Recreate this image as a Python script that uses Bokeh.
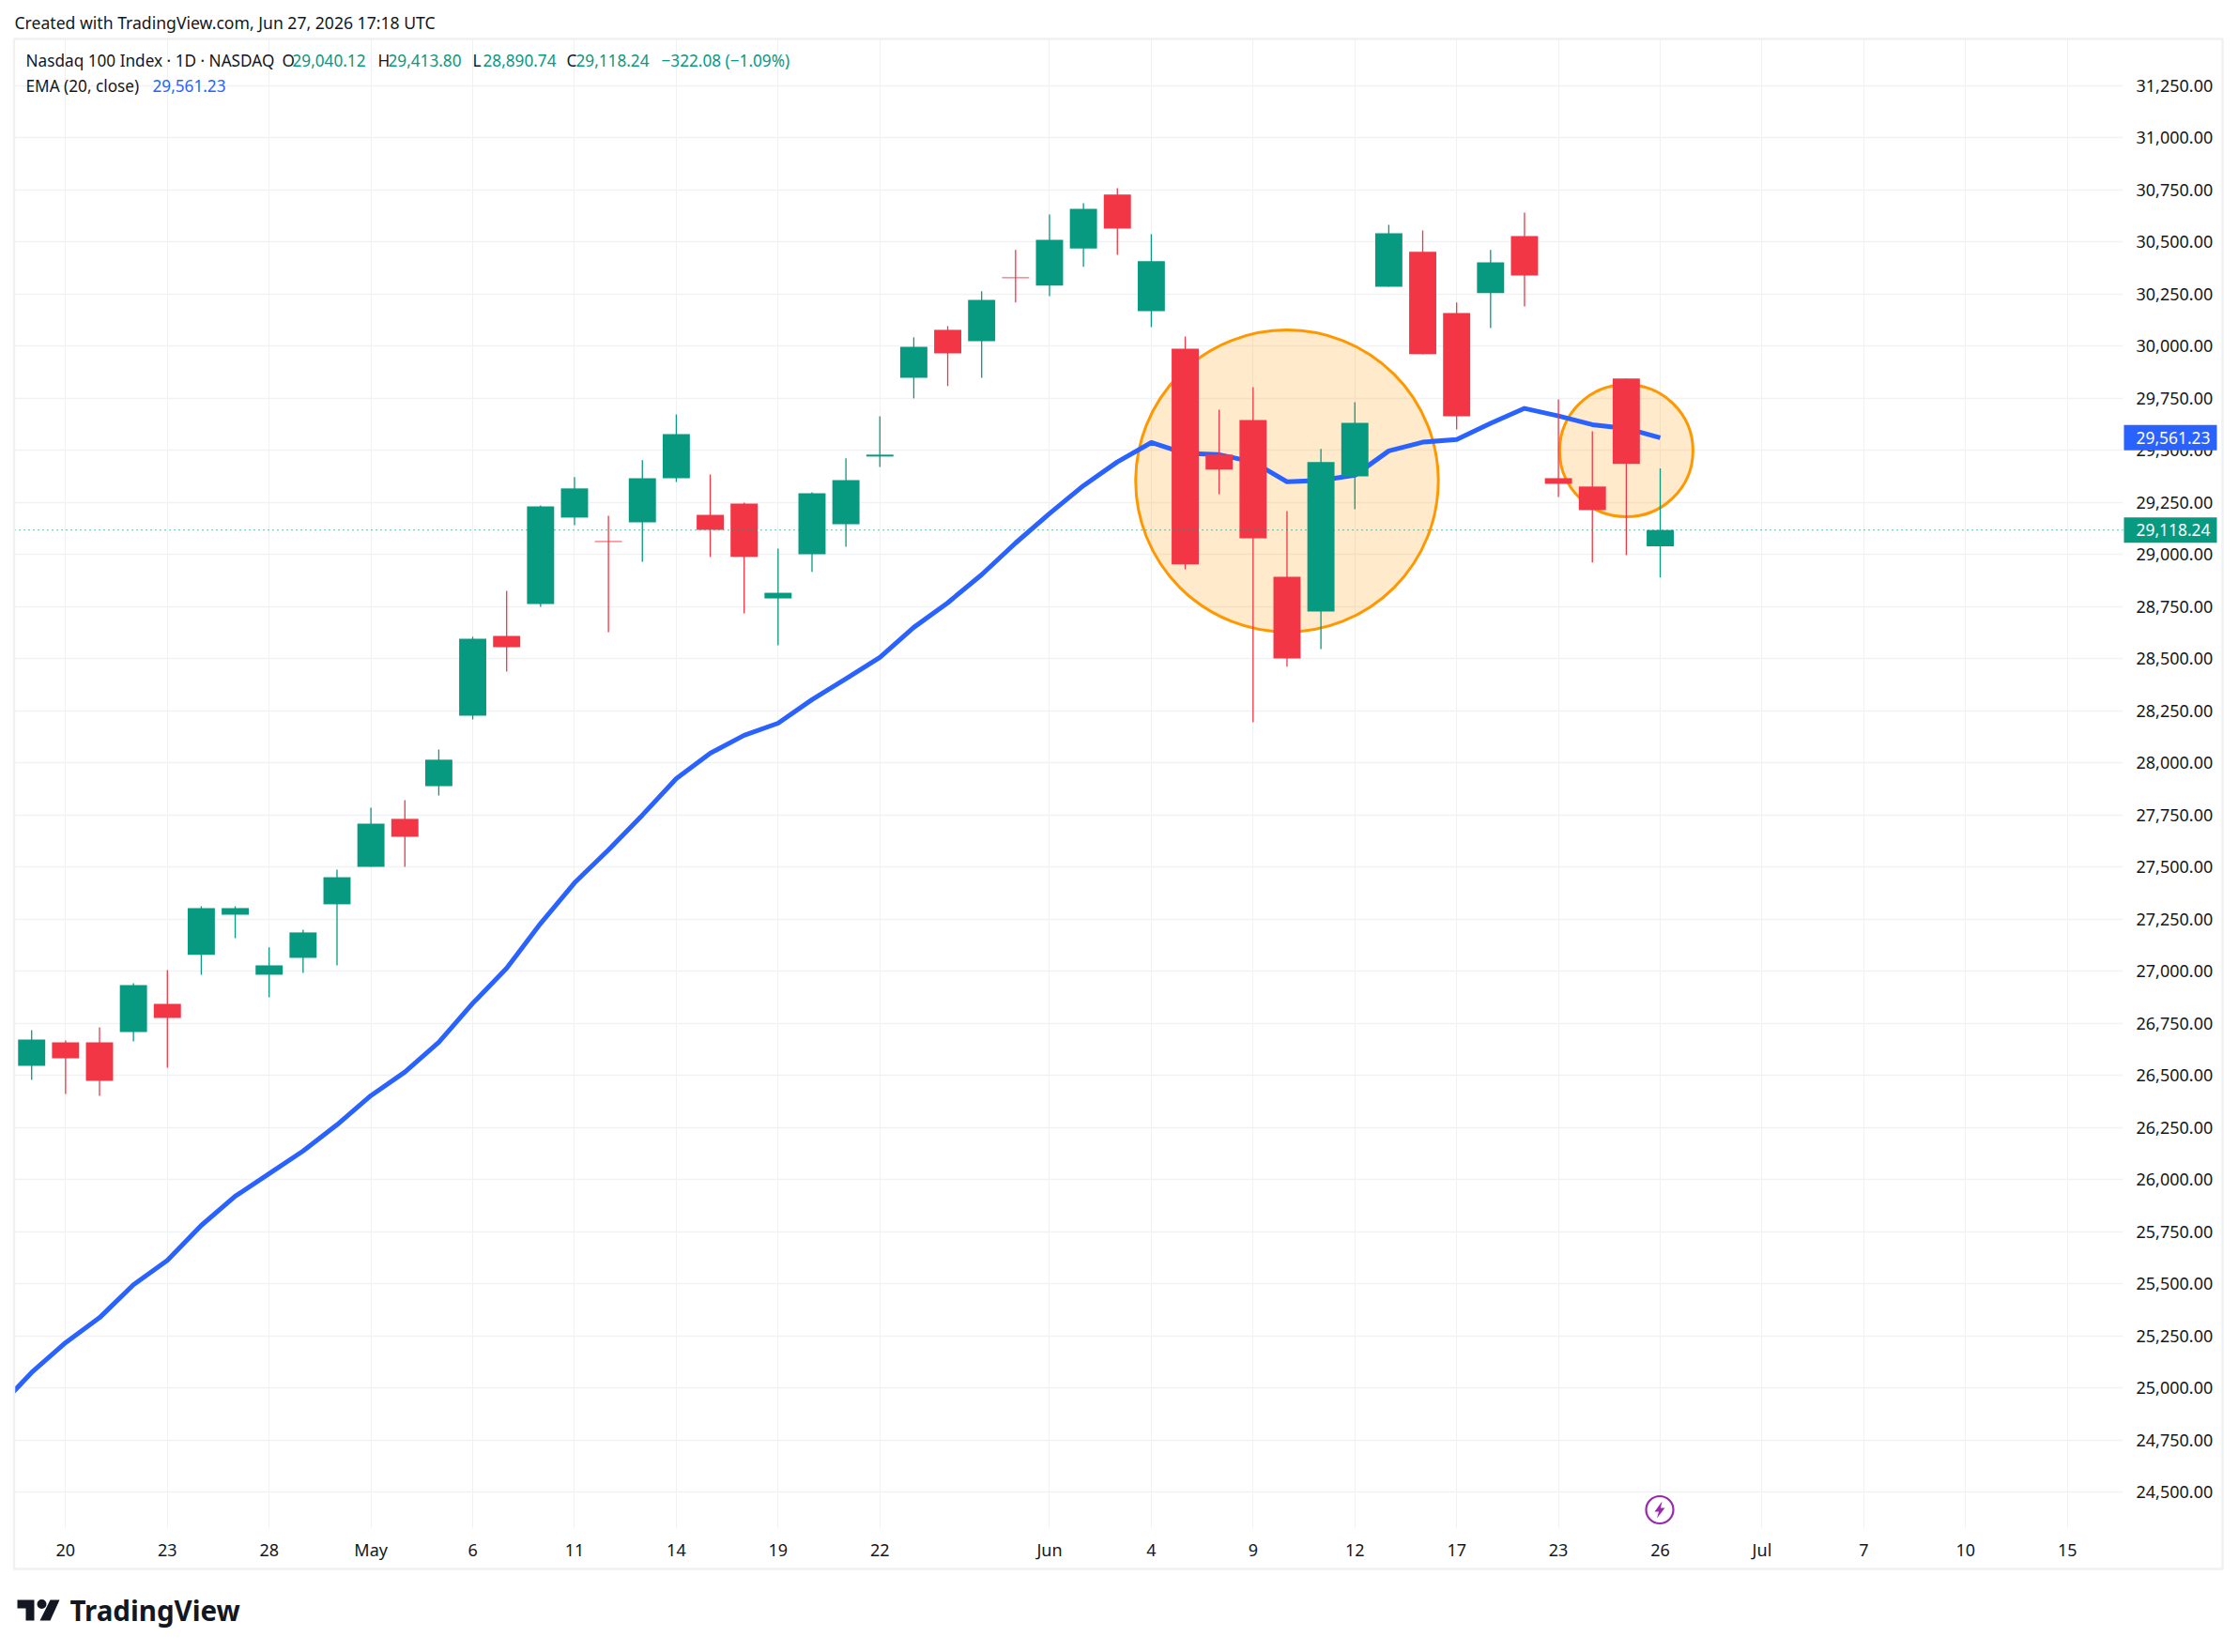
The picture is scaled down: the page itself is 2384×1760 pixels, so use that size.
from bokeh.plotting import figure
from bokeh.embed import file_html
from bokeh.resources import INLINE
from bokeh.layouts import column
from bokeh.core.properties import value
from bokeh.models import ColumnDataSource, FixedTicker, NumeralTickFormatter, Span, Range1d

FONT = "Noto Sans"
UP, DOWN, BLUE, ORANGE, INK = "#089981", "#F23645", "#2962FF", "#FF9800", "#131722"

opens = [26547, 26660, 26660, 26709, 26844, 27079, 27272, 26984, 27065, 27322,
         27502, 27732, 27889, 28227, 28610, 28763, 29178, 29065, 29155, 29367,
         29191, 29245, 28790, 29002, 29146, 29471, 29849, 30079, 30025, 30331,
         30291, 30469, 30728, 30169, 29989, 29480, 29646, 28894, 28727, 29376,
         30286, 30453, 30160, 30255, 30529, 29367, 29327, 29845, 29040.12]
highs = [26718, 26669, 26732, 26943, 27006, 27313, 27313, 27115, 27200, 27488,
         27786, 27822, 28065, 28606, 28826, 29236, 29372, 29187, 29453, 29673,
         29385, 29250, 29029, 29299, 29462, 29664, 30043, 30097, 30264, 30462,
         30633, 30687, 30759, 30538, 30047, 29696, 29804, 29209, 29507, 29732,
         30583, 30556, 30210, 30462, 30642, 29745, 29592, 29845, 29413.80]
lows = [26479, 26412, 26403, 26664, 26538, 26984, 27160, 26876, 26993, 27029,
        27502, 27502, 27844, 28209, 28439, 28750, 29142, 28628, 28966, 29349,
        28989, 28718, 28565, 28917, 29038, 29421, 29750, 29809, 29849, 30210,
        30241, 30381, 30439, 30092, 28930, 29290, 28196, 28462, 28547, 29218,
        30286, 29962, 29601, 30088, 30191, 29277, 28962, 28998, 28890.74]
closes = [26673, 26583, 26475, 26934, 26777, 27304, 27304, 27029, 27187, 27452,
          27709, 27646, 28016, 28597, 28556, 29232, 29318, 29061, 29367, 29579,
          29119, 28989, 28817, 29295, 29358, 29480, 29998, 29966, 30223, 30327,
          30511, 30660, 30565, 30408, 28953, 29408, 29079, 28502, 29444, 29633,
          30543, 29962, 29664, 30403, 30340, 29340, 29214, 29435, 29118.24]
ema_values = [24903, 25075, 25218, 25338, 25496, 25613, 25781, 25921, 26029, 26138,
              26264, 26404, 26517, 26660, 26847, 27015, 27230, 27425, 27583, 27750,
              27925, 28047, 28133, 28191, 28304, 28404, 28507, 28651, 28769, 28904,
              29056, 29197, 29331, 29445, 29538, 29486, 29480, 29445, 29350, 29357,
              29381, 29498, 29540, 29553, 29630, 29702, 29666, 29624, 29606, 29561.23]
ema_positions = list(range(-1, 49))

price_ticks = [24500, 24750, 25000, 25250, 25500, 25750, 26000, 26250, 26500, 26750,
               27000, 27250, 27500, 27750, 28000, 28250, 28500, 28750, 29000, 29250,
               29500, 29750, 30000, 30250, 30500, 30750, 31000, 31250]
date_ticks = [1, 4, 7, 10, 13, 16, 19, 22, 25, 30, 33, 36, 39, 42, 45, 48, 51, 54, 57, 60]
date_labels = ["20", "23", "28", "May", "6", "11", "14", "19", "22", "Jun", "4", "9",
               "12", "17", "23", "26", "Jul", "7", "10", "15"]
circle_x = [37, 47]
circle_y = [29354, 29499]
circle_w = [8.92, 3.93]
circle_h = [1449, 634]

X0, X1 = -0.504, 61.64
Y0, Y1 = 24326, 31475
W, H = 2376, 1752
LEFT, RIGHT, TOP, BOTTOM = 15, 2261, 41, 1628

p = figure(width=W, height=H, output_backend="svg", toolbar_location=None,
           x_range=Range1d(X0, X1), y_range=Range1d(Y0, Y1), y_axis_location="right",
           min_border_left=LEFT, min_border_right=W - RIGHT, min_border_top=TOP, min_border_bottom=H - BOTTOM,
           background_fill_color="white", border_fill_color="white")
p.outline_line_color = None

p.xaxis.ticker = FixedTicker(ticks=date_ticks)
p.xaxis.major_label_overrides = dict(zip(date_ticks, date_labels))
p.yaxis.ticker = FixedTicker(ticks=price_ticks)
p.yaxis.formatter = NumeralTickFormatter(format="0,0.00")
for ax, standoff in ((p.xaxis, 4), (p.yaxis, 8)):
    ax.axis_line_color = None
    ax.major_tick_line_color = None
    ax.minor_tick_line_color = None
    ax.major_label_text_font = FONT
    ax.major_label_text_font_size = "18px"
    ax.major_label_text_color = INK
    ax.major_label_standoff = standoff
p.xgrid.ticker = FixedTicker(ticks=date_ticks)
p.ygrid.ticker = FixedTicker(ticks=price_ticks)
p.xgrid.grid_line_color = "#f0f1f3"
p.ygrid.grid_line_color = "#f1f2f4"
p.xgrid.grid_line_width = 1
p.ygrid.grid_line_width = 1.5

p.ellipse(circle_x, circle_y, width=circle_w, height=circle_h,
          fill_color=ORANGE, fill_alpha=0.2, line_color=ORANGE, line_width=3)
p.line(ema_positions, ema_values, line_color=BLUE, line_width=5, line_join="round")

idx = list(range(len(closes)))
colors = [UP if c >= o else DOWN for o, c in zip(opens, closes)]
src = ColumnDataSource(dict(x=idx, o=opens, c=closes, h=highs, l=lows, color=colors))
p.segment("x", "h", "x", "l", source=src, line_color="color", line_width=1.3)
p.vbar("x", width=0.8, top="o", bottom="c", source=src, fill_color="color", line_color=None)

p.add_layout(Span(location=closes[-1], dimension="width", line_color=UP, line_width=1.2,
                  line_dash="1 4"))

# Transparent page-sized layer for what lies outside the plot frame, in page pixels.
ov = figure(width=W, height=H, output_backend="svg", toolbar_location=None,
            x_range=Range1d(0, W), y_range=Range1d(H, 0), x_axis_type=None, y_axis_type=None,
            min_border=0, background_fill_alpha=0, border_fill_alpha=0)
ov.outline_line_color = None
ov.grid.visible = False
ov.styles = {"position": "absolute", "left": "0px", "top": "0px", "z-index": "5", "pointer-events": "none"}


def text(x, y, s, color=INK, size="17.2px", style="normal"):
    ov.text([x], [y], text=[s], text_color=color, text_font=value(FONT), text_font_size=size,
            text_font_style=style, text_baseline="middle", text_align="left")


text(15, 23, "Created with TradingView.com, Jun 27, 2026 17:18 UTC", size="17.6px")
text(27, 64, "Nasdaq 100 Index · 1D · NASDAQ")
for lx, letter, vx, val in ((300, "O", 311, opens[-1]), (402, "H", 413, highs[-1]),
                            (503, "L", 514, lows[-1]), (603, "C", 613, closes[-1])):
    text(lx, 64, letter)
    text(vx, 64, f"{val:,.2f}", color=UP)
text(704, 64, "−322.08 (−1.09%)", color=UP)
text(27, 91, "EMA (20, close)")
text(162, 91, f"{ema_values[-1]:,.2f}", color=BLUE)


def price_y(v):
    return TOP + (Y1 - v) / (Y1 - Y0) * (BOTTOM - TOP)


for val, bg in ((ema_values[-1], BLUE), (closes[-1], UP)):
    yc = price_y(val)
    ov.quad(left=[2262], right=[2361], top=[yc - 13.5], bottom=[yc + 13.5], fill_color=bg, line_color=None)
    text(2275, yc, f"{val:,.2f}", color="white", size="17.4px")

# outer frame of the chart
ov.quad(left=[14.5], right=[2367], top=[41], bottom=[1671], fill_alpha=0, line_color="#f0f1f3", line_width=2.5)

# event marker on the last bar
ov.scatter([1767.5], [1608], size=29, marker="circle", fill_color="white", line_color="#9C27B0", line_width=2.2)
ov.patch([1770, 1762, 1766.5, 1764.5, 1773, 1768.5], [1599, 1610, 1610, 1617, 1606, 1606],
         fill_color="#9C27B0", line_color=None)

# TradingView logo
ov.patch([18, 36, 36, 27, 27, 18], [1704, 1704, 1726, 1726, 1713, 1713], fill_color=INK, line_color=None)
ov.patch([53, 63, 53, 42], [1704, 1704, 1726, 1726], fill_color=INK, line_color=None)
ov.scatter([44], [1708.5], size=10, marker="circle", fill_color=INK, line_color=None)
text(74, 1715, "TradingView", size="29.5px", style="bold")

page = column(column(p), ov)
open("out.html", "w").write(file_html(page, INLINE))
